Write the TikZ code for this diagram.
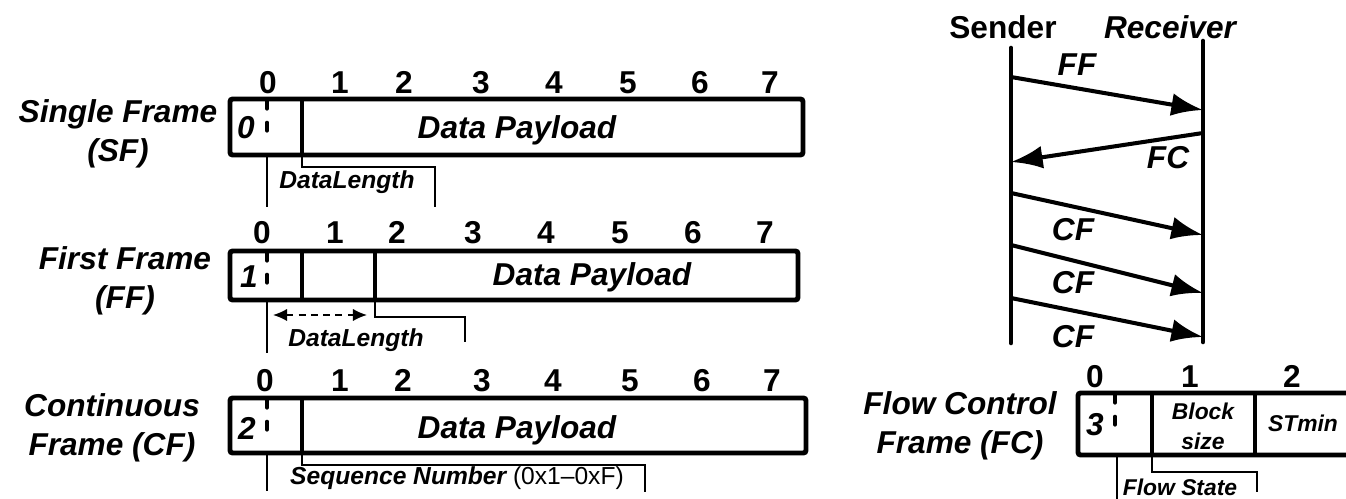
\documentclass[tikz,border=0pt]{standalone}
\usepackage{fontspec}
\setmainfont{Liberation Sans}
\usetikzlibrary{arrows.meta, positioning}

\begin{document}
\begin{tikzpicture}[x=0.02cm, y=-0.02cm, >={Latex[length=18pt,width=13pt]}]
    \tikzstyle{title} = [font=\fontsize{18}{22.5}\selectfont\bfseries\itshape, align=center, inner sep=0pt]
    \tikzstyle{digit} = [font=\fontsize{18}{20}\selectfont\bfseries, inner sep=0pt, text height=13pt, text depth=0pt]
    \tikzstyle{field} = [font=\fontsize{18}{20}\selectfont\bfseries\itshape, inner sep=0pt]
    \tikzstyle{note} = [font=\fontsize{14}{16}\selectfont\bfseries\itshape, inner sep=0pt]
    \tikzstyle{small} = [font=\fontsize{13}{17}\selectfont\bfseries\itshape, align=center, inner sep=0pt]
    \tikzstyle{pdu} = [draw, line width=2.8pt, rounded corners=1.5pt]
    \tikzstyle{divider} = [draw, line width=2.3pt]
    \tikzstyle{halfsplit} = [draw, line width=2.6pt, line cap=round, dash pattern=on 4.2pt off 8.3pt]
    \tikzstyle{lead} = [draw, line width=0.9pt]
    \tikzstyle{life} = [draw, line width=2.6pt, line cap=round]
    \tikzstyle{msg} = [draw, ->, line width=2.3pt]

    \useasboundingbox (0,0) rectangle (1346,499);

    % Single Frame
    \node [title] (sf) at (118,134) {Single Frame\\(SF)};
    \foreach \x [count=\i from 0] in {268,340,404,481,554,628,700,770}
        \node [digit] (sf-\i) at (\x,82) {\i};
    \draw [pdu] (230,99) rectangle (803,155);
    \draw [halfsplit] (267,101) -- (267,138);
    \draw [divider] (302,99) -- (302,155);
    \node [field] (sf-pci) at (246,128) {0};
    \node [field] (sf-data) at (517,130) {Data Payload};
    \draw [lead] (267,155) -- (267,207);
    \draw [lead] (302,155) -- (302,167) -- (435,167) -- (435,207);
    \node [note] (sf-len) at (347,182) {DataLength};

    % First Frame
    \node [title] (ff) at (125,281) {First Frame\\(FF)};
    \foreach \x [count=\i from 0] in {262,335,397,473,546,620,693,765}
        \node [digit] (ff-\i) at (\x,232) {\i};
    \draw [pdu] (230,251) rectangle (798,300);
    \draw [halfsplit] (267,253) -- (267,290);
    \draw [divider] (302,251) -- (302,300);
    \draw [divider] (375,251) -- (375,300);
    \node [field] (ff-pci) at (249,277) {1};
    \node [field] (ff-data) at (592,277) {Data Payload};
    \draw [lead] (267,300) -- (267,353);
    \draw [lead, <->, >={Latex[length=8pt,width=7pt]}, dash pattern=on 4pt off 3pt] (273,315) -- (367,315);
    \draw [lead] (375,300) -- (375,317) -- (465,317) -- (465,342);
    \node [note] (ff-len) at (356,340) {DataLength};

    % Continuous Frame
    \node [title] (cf) at (112,428) {Continuous\\Frame (CF)};
    \foreach \x [count=\i from 0] in {265,340,403,482,553,630,702,772}
        \node [digit] (cf-\i) at (\x,380) {\i};
    \draw [pdu] (230,398) rectangle (806,453);
    \draw [halfsplit] (267,400) -- (267,437);
    \draw [divider] (302,398) -- (302,453);
    \node [field] (cf-pci) at (247,428) {2};
    \node [field] (cf-data) at (517,430) {Data Payload};
    \draw [lead] (267,453) -- (267,491);
    \draw [lead] (302,453) -- (302,465) -- (645,465) -- (645,492);
    \node [note] (cf-seq) at (457,478) {Sequence Number \normalfont(0x1--0xF)};

    % Flow Control Frame
    \node [title] (fc) at (960,426) {Flow Control\\Frame (FC)};
    \foreach \x [count=\i from 0] in {1095,1190,1292}
        \node [digit] (fc-\i) at (\x,376) {\i};
    \draw [pdu] (1350,393) -- (1078,393) -- (1078,455) -- (1350,455);
    \draw [halfsplit] (1115,395) -- (1115,432);
    \draw [divider] (1152,393) -- (1152,455);
    \draw [divider] (1255,393) -- (1255,455);
    \node [field] (fc-pci) at (1095,425) {3};
    \node [small] (fc-bs) at (1203,426) {Block\\size};
    \node [small] (fc-st) at (1303,423) {STmin};
    \draw [lead] (1117,455) -- (1117,499);
    \draw [lead] (1152,455) -- (1152,472) -- (1257,472) -- (1257,492);
    \node [small] (fc-fs) at (1180,487) {Flow State};

    % sender / receiver
    \node [digit] (snd) at (1003,27) {Sender};
    \node [field] (rcv) at (1170,27) {Receiver};
    \coordinate (snd-top) at (1011,48);
    \coordinate (snd-bot) at (1011,343);
    \coordinate (rcv-top) at (1203,41);
    \coordinate (rcv-bot) at (1203,342);
    \draw [life] (snd-top) -- (snd-bot);
    \draw [life] (rcv-top) -- (rcv-bot);

    \coordinate (m1-a) at (1011,77);  \coordinate (m1-b) at (1203,110);
    \coordinate (m2-a) at (1203,133); \coordinate (m2-b) at (1011,162);
    \coordinate (m3-a) at (1011,193); \coordinate (m3-b) at (1203,235);
    \coordinate (m4-a) at (1011,245); \coordinate (m4-b) at (1203,293);
    \coordinate (m5-a) at (1011,298); \coordinate (m5-b) at (1203,337);
    \draw [msg] (m1-a) -- (m1-b);
    \draw [msg] (m2-a) -- (m2-b);
    \draw [msg] (m3-a) -- (m3-b);
    \draw [msg] (m4-a) -- (m4-b);
    \draw [msg] (m5-a) -- (m5-b);
    \node [field] (m1) at (1077,65) {FF};
    \node [field] (m2) at (1168,158) {FC};
    \node [field] (m3) at (1073,230) {CF};
    \node [field] (m4) at (1073,283) {CF};
    \node [field] (m5) at (1073,337) {CF};
\end{tikzpicture}
\end{document}
